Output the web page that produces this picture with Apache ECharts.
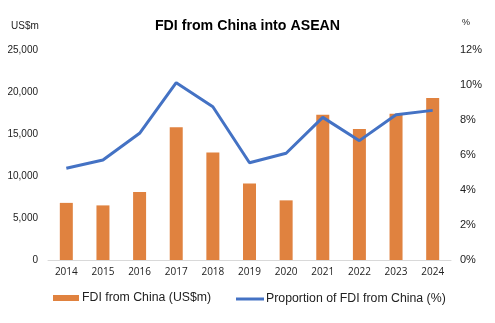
<!DOCTYPE html>
<html><head><meta charset="utf-8">
<script src="https://cdn.jsdelivr.net/npm/echarts@6/dist/echarts.min.js"></script>
<style>html,body{margin:0;padding:0;background:#fff}#c{width:495px;height:323px}</style>
</head><body><div id="c"></div>
<script>
const years = ['2014','2015','2016','2017','2018','2019','2020','2021','2022','2023','2024'];
const fdiUSm = [6800, 6500, 8100, 15800, 12800, 9100, 7100, 17300, 15600, 17400, 19300];
const sharePct = [5.24, 5.71, 7.24, 10.13, 8.76, 5.56, 6.1, 8.15, 6.82, 8.3, 8.55];
const barName = 'FDI from China (US$m)';
const lineName = 'Proportion of FDI from China (%)';
const font = '"Liberation Sans", Arial, sans-serif';
const chart = echarts.init(document.getElementById('c'), null, {renderer:'canvas'});
chart.setOption({
  animation:false,
  title:[
    {text:'FDI from China into ASEAN', left:'center', top:19, padding:0,
     textStyle:{fontFamily:font, fontSize:14.2, fontWeight:'bold', color:'#000'}},
  ],
  graphic:[
    {type:'text', left:11, top:21, style:{text:'US$m', font:'10px '+font, fill:'#222'}},
    {type:'text', left:462, top:18, style:{text:'%', font:'9px '+font, fill:'#222'}}
  ],
  legend:[
    {data:[{name:barName, icon:'rect'}], left:53, top:292, padding:0, itemWidth:26, itemHeight:6, itemGap:3,
     textStyle:{fontFamily:font, fontSize:12.3, color:'#222', padding:[0,0,0,-2]}},
    {data:[{name:lineName, icon:'rect'}], left:236, top:293, padding:0, itemWidth:28, itemHeight:3,
     textStyle:{fontFamily:font, fontSize:12.3, color:'#222', padding:[0,0,0,-3]}}
  ],
  grid:{left:48, right:44, top:50, bottom:63},
  xAxis:{type:'category', data:years,
    axisLine:{lineStyle:{color:'#d9d9d9', width:1}}, axisTick:{show:false},
    axisLabel:{fontFamily:'"Open Sans", "Liberation Sans", sans-serif', fontSize:10, color:'#222', margin:7}},
  yAxis:[
    {type:'value', min:0, max:25000, interval:5000, splitLine:{show:false},
     axisLabel:{fontFamily:font, fontSize:10, color:'#222', margin:10,
       formatter:v=>v.toLocaleString('en-US')}},
    {type:'value', min:0, max:12, interval:2, splitLine:{show:false},
     axisLabel:{fontFamily:font, fontSize:11, color:'#222', margin:9, formatter:v=>v+'%'}}
  ],
  series:[
    {name:barName, type:'bar', data:fdiUSm, barWidth:13, yAxisIndex:0,
     itemStyle:{color:'#E0823F'}},
    {name:lineName, type:'line', data:sharePct, yAxisIndex:1, symbol:'none',
     lineStyle:{color:'#4472C4', width:3}, itemStyle:{color:'#4472C4'}}
  ]
});
</script></body></html>
